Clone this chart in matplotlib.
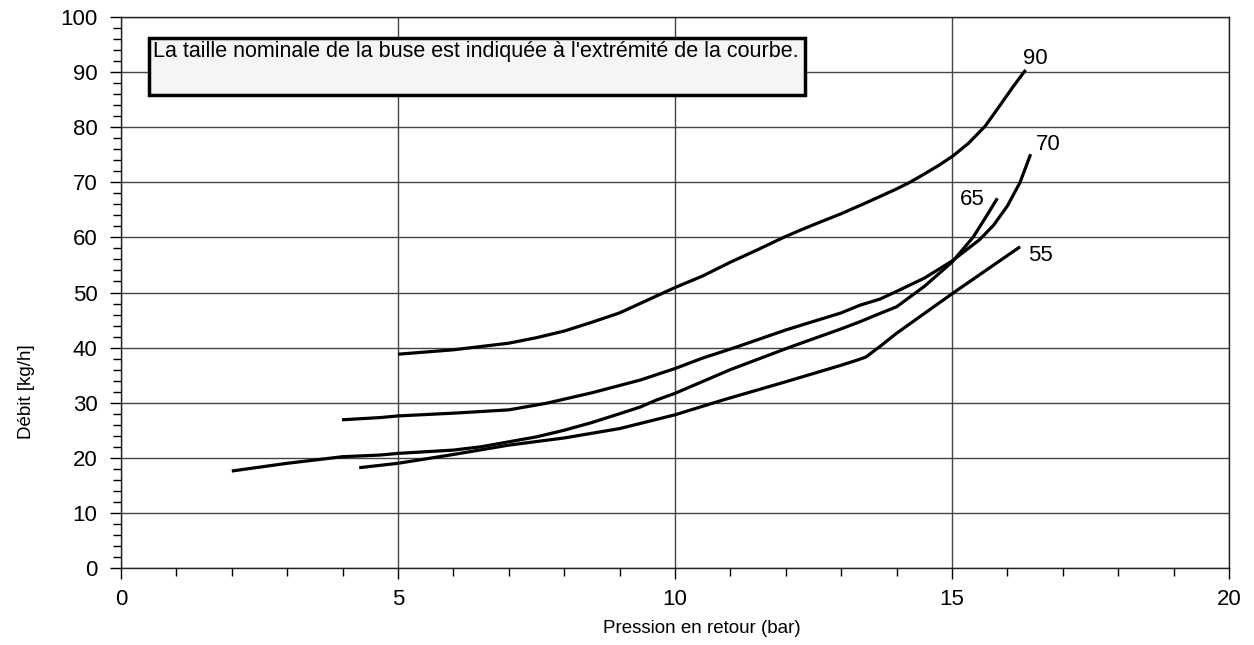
import matplotlib
matplotlib.use('Agg')
import matplotlib.pyplot as plt
from matplotlib.patches import Rectangle
from matplotlib.ticker import MultipleLocator

plt.rcParams['font.family'] = ['Liberation Sans', 'DejaVu Sans']

# nozzle 90
p90 = [5.0, 5.5, 6.0, 6.5, 7.0, 7.5, 8.0, 8.5, 9.0, 9.37, 10.0, 10.5, 11.0, 11.5, 11.96, 12.26, 12.6, 13.0, 13.52, 14.0, 14.24, 14.5, 14.75, 15.02, 15.3, 15.6, 15.87, 16.1, 16.33]
q90 = [38.8, 39.2, 39.6, 40.2, 40.8, 41.8, 43.0, 44.6, 46.3, 48.0, 50.9, 53.0, 55.5, 57.8, 60.0, 61.3, 62.7, 64.3, 66.6, 68.8, 70.0, 71.5, 73.0, 74.8, 77.1, 80.2, 84.0, 87.3, 90.4]
# nozzle 70
p70 = [3.99, 4.68, 5.0, 6.0, 7.0, 7.68, 8.5, 9.37, 10.0, 10.5, 11.11, 12.0, 13.0, 13.34, 13.7, 14.0, 14.5, 15.0, 15.5, 15.75, 16.0, 16.23, 16.42]
q70 = [26.9, 27.3, 27.6, 28.1, 28.7, 29.9, 31.8, 34.1, 36.2, 38.1, 40.1, 43.2, 46.3, 47.7, 48.8, 50.2, 52.6, 55.7, 59.6, 62.2, 65.7, 70.0, 75.1]
# nozzle 65
p65 = [2.0, 3.0, 4.0, 4.68, 5.0, 6.0, 6.5, 7.0, 7.5, 8.0, 8.5, 9.0, 9.37, 9.67, 10.0, 11.0, 12.08, 13.0, 13.34, 13.7, 14.0, 14.5, 15.0, 15.38, 15.6, 15.82]
q65 = [17.6, 19.0, 20.2, 20.5, 20.8, 21.4, 22.0, 22.9, 23.8, 25.0, 26.4, 28.0, 29.2, 30.5, 31.7, 36.0, 40.1, 43.4, 44.7, 46.2, 47.4, 51.1, 55.5, 60.0, 63.5, 67.1]
# nozzle 55
p55 = [4.3, 5.0, 6.0, 7.0, 8.0, 9.0, 10.0, 10.87, 12.0, 13.0, 13.28, 13.45, 13.58, 13.7, 14.0, 15.02, 16.23]
q55 = [18.2, 19.0, 20.6, 22.3, 23.6, 25.3, 27.8, 30.5, 33.8, 36.8, 37.7, 38.3, 39.3, 40.2, 42.6, 49.9, 58.3]

labels = ['90', '70', '65', '55']
label_pos = [(16.5, 92.5), (16.73, 76.8), (15.36, 66.8), (16.59, 56.8)]

fig = plt.figure(figsize=(12.54, 6.45), dpi=100)
ax = fig.add_axes([0.0965, 0.1194, 0.8835, 0.8542])

for p, q in [(p90, q90), (p70, q70), (p65, q65), (p55, q55)]:
    ax.plot(p, q, color='black', lw=2.3, solid_capstyle='butt', solid_joinstyle='round', zorder=3)

for lab, (x, y) in zip(labels, label_pos):
    ax.text(x, y, lab, fontsize=16, ha='center', va='center', zorder=4)

ax.set_xlim(0, 20)
ax.set_ylim(0, 100)
ax.xaxis.set_major_locator(MultipleLocator(5))
ax.xaxis.set_minor_locator(MultipleLocator(1))
ax.yaxis.set_major_locator(MultipleLocator(10))
ax.yaxis.set_minor_locator(MultipleLocator(2))
ax.grid(True, which='major', color='#444444', lw=1.0, zorder=1)
ax.tick_params(which='major', direction='out', length=8, width=1, labelsize=16, pad=7)
ax.tick_params(which='minor', direction='out', length=6, width=1)
ax.tick_params(axis='y', which='major', pad=9)
for s in ax.spines.values():
    s.set_color('#222222')
    s.set_linewidth(1.0)

ax.set_xlabel('Pression en retour (bar)', fontsize=13.5)
ax.set_ylabel('Débit [kg/h]', fontsize=13.5)
ax.xaxis.set_label_coords(0.524, -0.094)
ax.yaxis.set_label_coords(-0.078, 0.32)

box = Rectangle((0.5, 85.8), 11.85, 10.4, facecolor='#f5f5f5', edgecolor='black', lw=2.5, zorder=5)
ax.add_patch(box)
ax.text(0.58, 95.6, "La taille nominale de la buse est indiquée à l'extrémité de la courbe.",
        fontsize=15.5, ha='left', va='top', zorder=6)

fig.savefig('out.png', dpi=100)
